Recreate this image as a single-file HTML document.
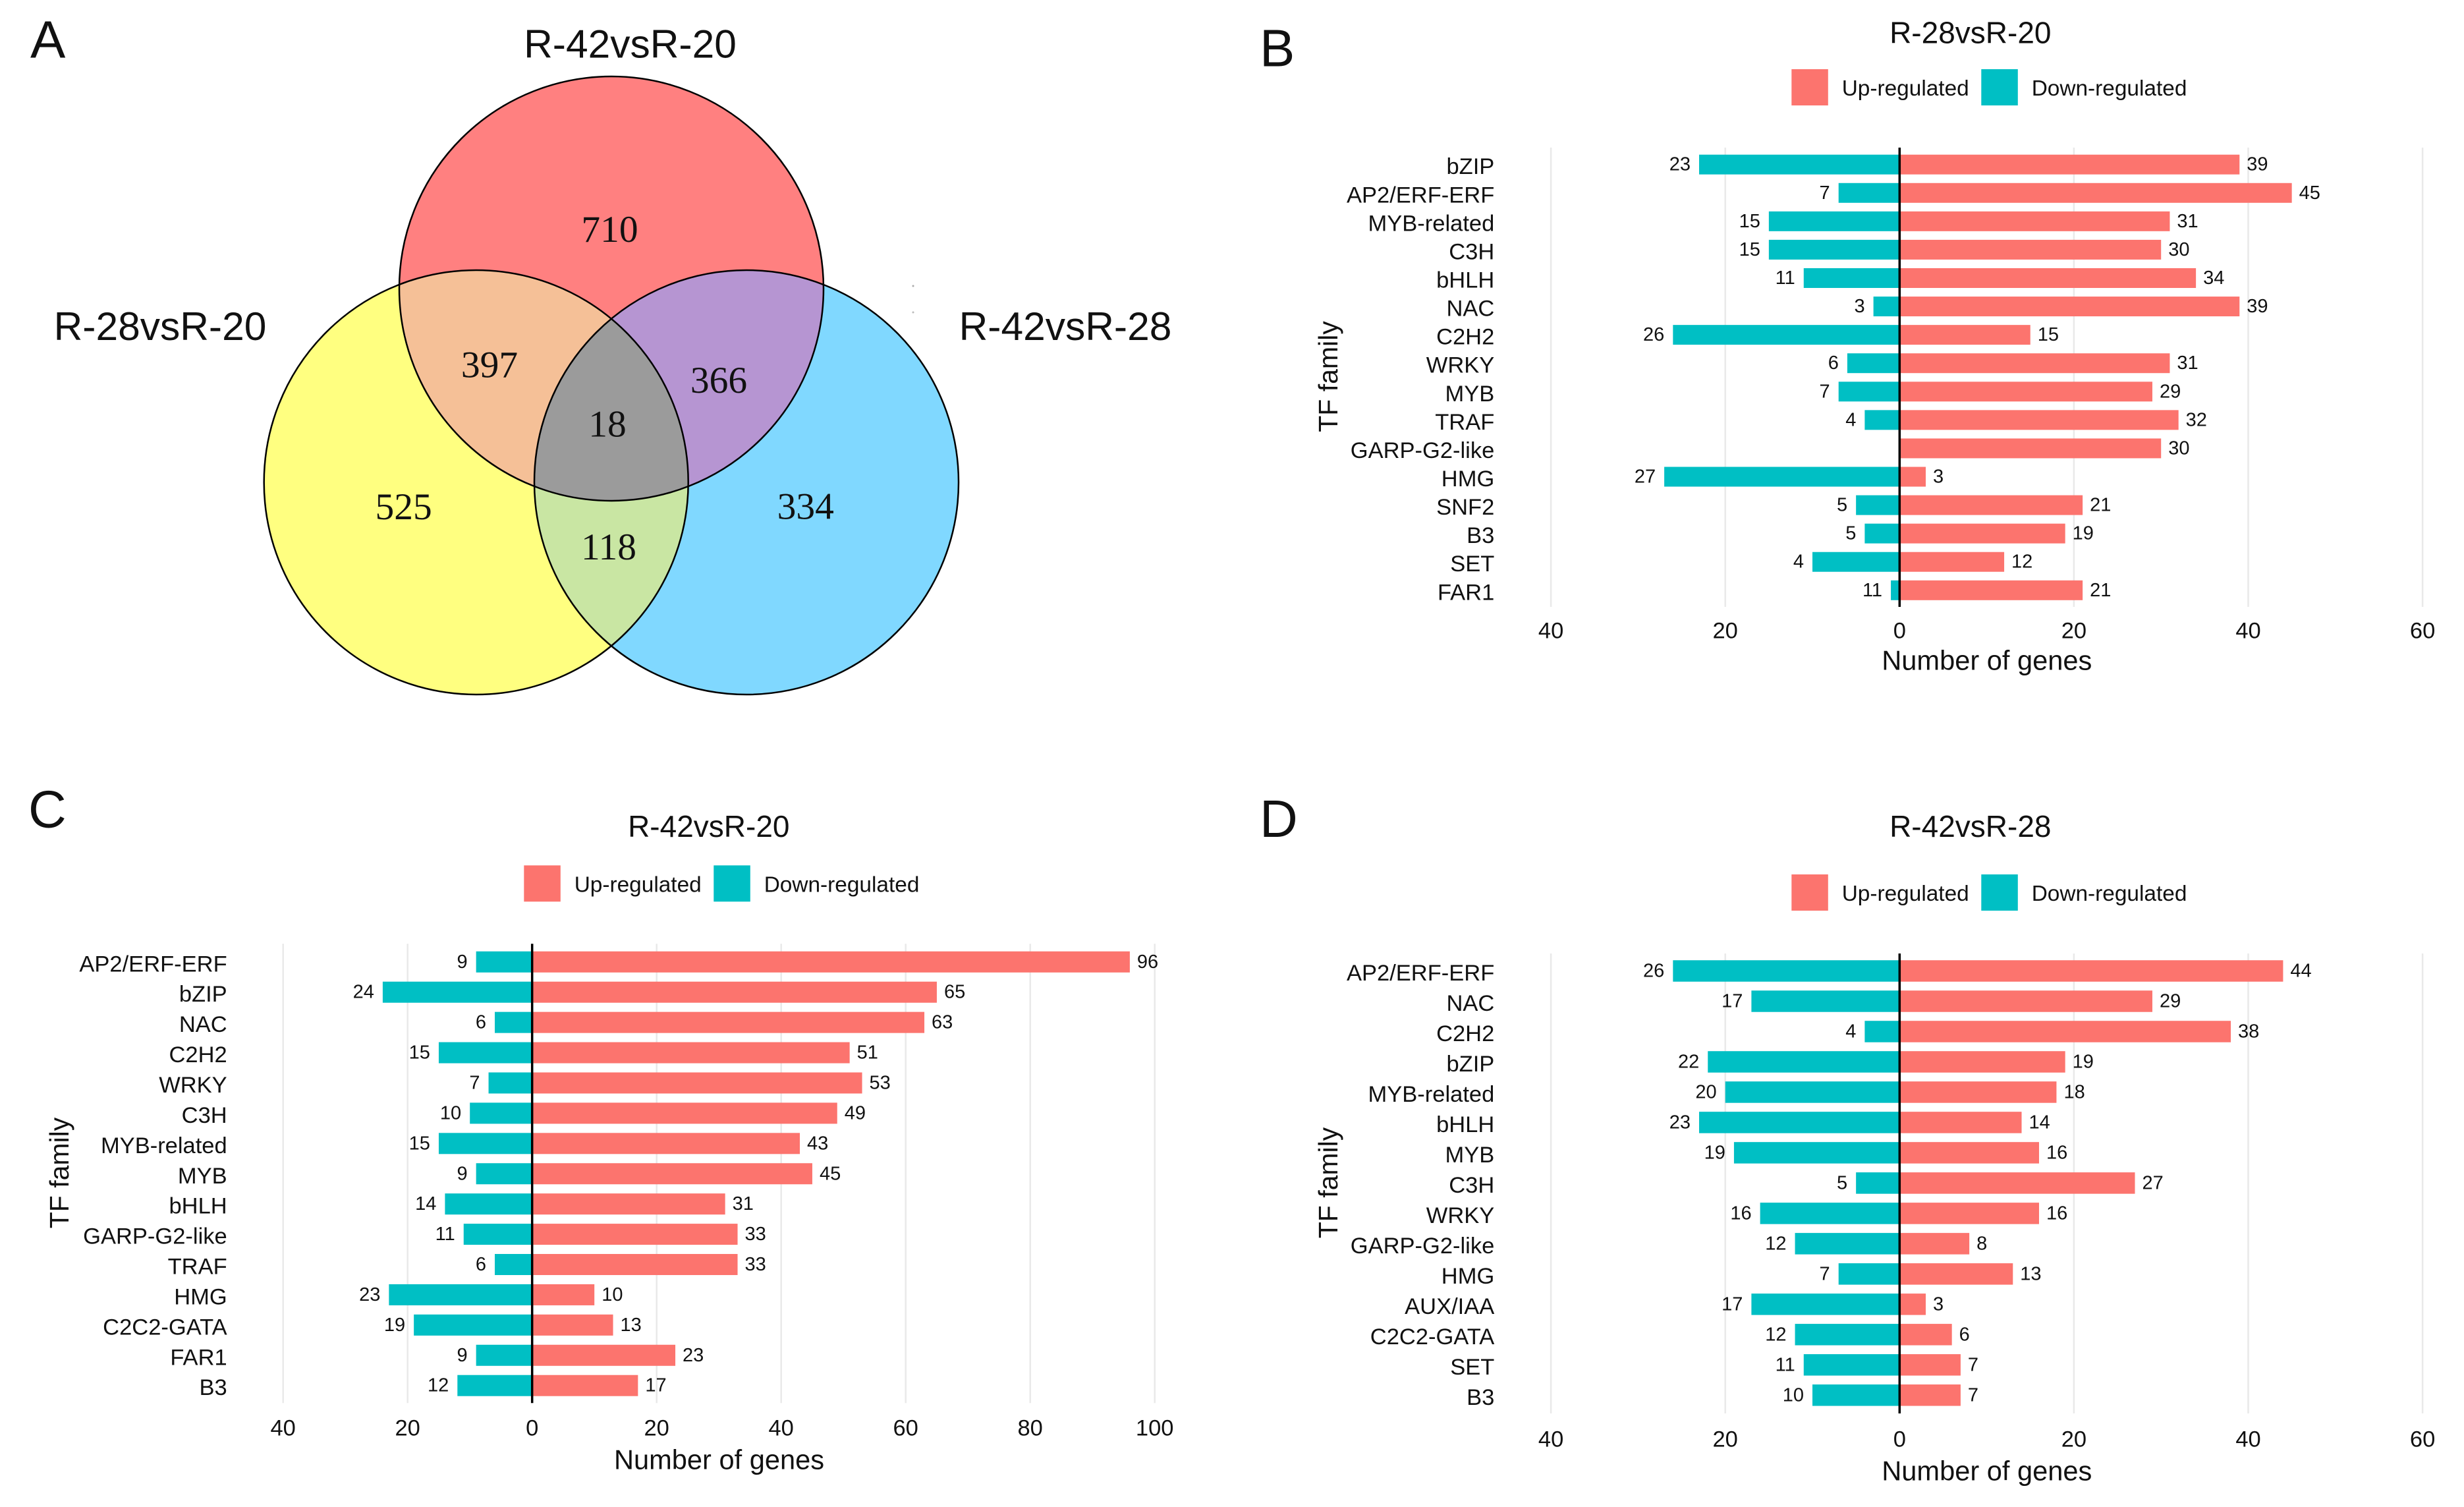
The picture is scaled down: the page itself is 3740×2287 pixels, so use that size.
<!DOCTYPE html>
<html lang="en">
<head>
<meta charset="utf-8">
<title>TF family differential expression</title>
<style>
  html, body { margin: 0; padding: 0; background: #fff; }
  svg { display: block; }
  text { font-family: "Liberation Sans", Arial, sans-serif; fill: #111; }
  .serif { font-family: "Liberation Serif", "Times New Roman", serif; fill: #111; }
</style>
</head>
<body>
<svg id="figure" xmlns="http://www.w3.org/2000/svg" width="3740" height="2287" viewBox="0 0 3740 2287">
  <rect x="0" y="0" width="3740" height="2287" fill="#ffffff"/>
  <defs>
    <clipPath id="clip-top"><circle cx="928" cy="438" r="322"/></clipPath>
    <clipPath id="clip-left"><circle cx="722.7" cy="732" r="322"/></clipPath>
    <clipPath id="clip-right"><circle cx="1133" cy="732" r="322"/></clipPath>
  </defs>

  <g id="panel-a">
    <text x="46" y="87.5" font-size="80">A</text>
    <circle cx="722.7" cy="732" r="322" fill="#ffff80"/>
    <circle cx="1133" cy="732" r="322" fill="#80d8ff"/>
    <circle cx="928" cy="438" r="322" fill="#ff8080"/>
    <g clip-path="url(#clip-left)">
      <circle cx="1133" cy="732" r="322" fill="#c9e6a3"/>
    </g>
    <g clip-path="url(#clip-top)">
      <circle cx="722.7" cy="732" r="322" fill="#f5c097"/>
    </g>
    <g clip-path="url(#clip-top)">
      <circle cx="1133" cy="732" r="322" fill="#b695d2"/>
    </g>
    <g clip-path="url(#clip-top)">
      <g clip-path="url(#clip-left)">
        <circle cx="1133" cy="732" r="322" fill="#9b9b9b"/>
      </g>
    </g>
    <g fill="none" stroke="#000" stroke-width="2.5">
      <circle cx="928" cy="438" r="322"/>
      <circle cx="722.7" cy="732" r="322"/>
      <circle cx="1133" cy="732" r="322"/>
    </g>
    <text x="956.5" y="87.5" font-size="60.5" text-anchor="middle">R-42vsR-20</text>
    <text x="243" y="516" font-size="60.5" text-anchor="middle">R-28vsR-20</text>
    <text x="1617" y="516" font-size="60.5" text-anchor="middle">R-42vsR-28</text>
    <text class="serif" x="925.5" y="367" font-size="57.5" text-anchor="middle">710</text>
    <text class="serif" x="743" y="572.7" font-size="57.5" text-anchor="middle">397</text>
    <text class="serif" x="1091" y="596" font-size="57.5" text-anchor="middle">366</text>
    <text class="serif" x="922" y="662.7" font-size="57.5" text-anchor="middle">18</text>
    <text class="serif" x="612.6" y="788" font-size="57.5" text-anchor="middle">525</text>
    <text class="serif" x="1222.7" y="787.7" font-size="57.5" text-anchor="middle">334</text>
    <text class="serif" x="924" y="849" font-size="57.5" text-anchor="middle">118</text>
    <circle cx="1386" cy="434" r="1.5" fill="#aaa"/>
    <circle cx="1386" cy="474" r="1.5" fill="#bbb"/>
  </g>

  <text x="1912" y="100.5" font-size="80">B</text>
  <text x="43" y="1255.5" font-size="80">C</text>
  <text x="1912" y="1270" font-size="80">D</text>

  <g id="panel-b"></g>
  <g id="panel-c"></g>
  <g id="panel-d"></g>
</svg>

<script>
// Panel B data: R-28vsR-20
const categoriesB = ['bZIP','AP2/ERF-ERF','MYB-related','C3H','bHLH','NAC','C2H2','WRKY','MYB','TRAF','GARP-G2-like','HMG','SNF2','B3','SET','FAR1'];
const upB = [39,45,31,30,34,39,15,31,29,32,30,3,21,19,12,21];
const downB = [23,7,15,15,11,3,26,6,7,4,0,27,5,4,10,1];
const upLabelsB = ['39','45','31','30','34','39','15','31','29','32','30','3','21','19','12','21'];
const downLabelsB = ['23','7','15','15','11','3','26','6','7','4','','27','5','5','4','11'];
const ticksLeftB = [40,20];
const ticksRightB = [0,20,40,60];

// Panel C data: R-42vsR-20
const categoriesC = ['AP2/ERF-ERF','bZIP','NAC','C2H2','WRKY','C3H','MYB-related','MYB','bHLH','GARP-G2-like','TRAF','HMG','C2C2-GATA','FAR1','B3'];
const upC = [96,65,63,51,53,49,43,45,31,33,33,10,13,23,17];
const downC = [9,24,6,15,7,10,15,9,14,11,6,23,19,9,12];
const upLabelsC = ['96','65','63','51','53','49','43','45','31','33','33','10','13','23','17'];
const downLabelsC = ['9','24','6','15','7','10','15','9','14','11','6','23','19','9','12'];
const ticksLeftC = [40,20];
const ticksRightC = [0,20,40,60,80,100];

// Panel D data: R-42vsR-28
const categoriesD = ['AP2/ERF-ERF','NAC','C2H2','bZIP','MYB-related','bHLH','MYB','C3H','WRKY','GARP-G2-like','HMG','AUX/IAA','C2C2-GATA','SET','B3'];
const upD = [44,29,38,19,18,14,16,27,16,8,13,3,6,7,7];
const downD = [26,17,4,22,20,23,19,5,16,12,7,17,12,11,10];
const upLabelsD = ['44','29','38','19','18','14','16','27','16','8','13','3','6','7','7'];
const downLabelsD = ['26','17','4','22','20','23','19','5','16','12','7','17','12','11','10'];
const ticksLeftD = [40,20];
const ticksRightD = [0,20,40,60];

const SVG_NS = 'http://www.w3.org/2000/svg';
const UP_COLOR = '#fc746e';
const DOWN_COLOR = '#00bfc4';

function make(parent, tag, attrs, content) {
  const el = document.createElementNS(SVG_NS, tag);
  for (const k in attrs) el.setAttribute(k, attrs[k]);
  if (content !== undefined) el.textContent = content;
  parent.appendChild(el);
  return el;
}

function drawPanel(g, cfg, categories, up, down, upLabels, downLabels, ticksLeft, ticksRight) {
  const xScale = v => cfg.x0 + v * cfg.unit;
  const n = categories.length;
  const step = (cfg.lastBar - cfg.firstBar) / (n - 1);
  const yScale = i => cfg.firstBar + i * step;

  ticksLeft.forEach(t => {
    const grid = make(g, 'line', {x1: xScale(-t), x2: xScale(-t), y1: cfg.top, y2: cfg.bottom, stroke: '#e9e9e9', 'stroke-width': 2.5});
    
    
    const lab = make(g, 'text', {x: xScale(-t), y: cfg.tickBase, 'font-size': 34.5, 'text-anchor': 'middle'}, String(t));
    
    
  });
  ticksRight.forEach(t => {
    if (t !== 0) {
      const grid = make(g, 'line', {x1: xScale(t), x2: xScale(t), y1: cfg.top, y2: cfg.bottom, stroke: '#e9e9e9', 'stroke-width': 2.5});
      
      
    }
    const lab = make(g, 'text', {x: xScale(t), y: cfg.tickBase, 'font-size': 34.5, 'text-anchor': 'middle'}, String(t));
    
    
  });

  categories.forEach((name, i) => {
    const cy = yScale(i);
    const cat = make(g, 'text', {x: cfg.catX, y: cy + 14.5, 'font-size': 34.5, 'text-anchor': 'end'}, name);
    
    

    const upBar = make(g, 'rect', {x: xScale(0), y: cy - cfg.barH / 2, width: xScale(up[i]) - xScale(0), height: cfg.barH, fill: UP_COLOR});
    
    

    const downBar = make(g, 'rect', {x: xScale(-down[i]), y: cy - cfg.barH / 2, width: xScale(0) - xScale(-down[i]), height: cfg.barH, fill: DOWN_COLOR});
    
    

    const upLab = make(g, 'text', {x: xScale(up[i]) + 11, y: cy + 9, 'font-size': 29}, upLabels[i]);
    
    

    const downLab = make(g, 'text', {x: xScale(-down[i]) - 13, y: cy + 9, 'font-size': 29, 'text-anchor': 'end'}, downLabels[i]);
    
    
  });

  const zero = make(g, 'line', {x1: xScale(0), x2: xScale(0), y1: cfg.top, y2: cfg.bottom, stroke: '#000', 'stroke-width': 3.5});
  
  

  const title = make(g, 'text', {x: cfg.titleX, y: cfg.titleBase, 'font-size': 46, 'text-anchor': 'middle'}, cfg.title);
  
  

  const xTitle = make(g, 'text', {x: cfg.xTitleX, y: cfg.xTitleBase, 'font-size': 41.6, 'text-anchor': 'middle'}, 'Number of genes');
  
  

  const yTitle = make(g, 'text', {transform: 'translate(' + cfg.yTitleX + ',' + cfg.yTitleY + ') rotate(-90)', 'font-size': 41, 'text-anchor': 'middle'}, 'TF family');
  
  

  const swUp = make(g, 'rect', {x: cfg.legUpX, y: cfg.legTop, width: 55.5, height: 55, fill: UP_COLOR});
  
  

  const txtUp = make(g, 'text', {x: cfg.legUpX + 76.4, y: cfg.legTop + 40, 'font-size': 33.4}, 'Up-regulated');
  
  

  const swDown = make(g, 'rect', {x: cfg.legUpX + 288, y: cfg.legTop, width: 55.5, height: 55, fill: DOWN_COLOR});
  
  

  const txtDown = make(g, 'text', {x: cfg.legUpX + 364.4, y: cfg.legTop + 40, 'font-size': 33.4}, 'Down-regulated');
  
  
}

drawPanel(document.getElementById('panel-b'), {
  x0: 2883.3, unit: 13.23, top: 224, bottom: 921, firstBar: 249.7, lastBar: 895.8, barH: 30,
  catX: 2268.3, tickBase: 968.3, title: 'R-28vsR-20', titleX: 2990.8, titleBase: 65.7,
  xTitleX: 3015.8, xTitleBase: 1016.7, yTitleX: 2030, yTitleY: 571.5, legUpX: 2719.3, legTop: 105
}, categoriesB, upB, downB, upLabelsB, downLabelsB, ticksLeftB, ticksRightB);

drawPanel(document.getElementById('panel-c'), {
  x0: 807.7, unit: 9.45, top: 1432.3, bottom: 2129.3, firstBar: 1459.8, lastBar: 2102.7, barH: 32,
  catX: 344.7, tickBase: 2178.3, title: 'R-42vsR-20', titleX: 1075.8, titleBase: 1270,
  xTitleX: 1091.5, xTitleBase: 2229.3, yTitleX: 104, yTitleY: 1780, legUpX: 795.3, legTop: 1313.3
}, categoriesC, upC, downC, upLabelsC, downLabelsC, ticksLeftC, ticksRightC);

drawPanel(document.getElementById('panel-d'), {
  x0: 2883.3, unit: 13.23, top: 1447, bottom: 2145, firstBar: 1473.5, lastBar: 2117.3, barH: 32.5,
  catX: 2268.3, tickBase: 2195.7, title: 'R-42vsR-28', titleX: 2990.8, titleBase: 1270,
  xTitleX: 3015.8, xTitleBase: 2246.7, yTitleX: 2030, yTitleY: 1795, legUpX: 2719.3, legTop: 1327
}, categoriesD, upD, downD, upLabelsD, downLabelsD, ticksLeftD, ticksRightD);
</script>
</body>
</html>
